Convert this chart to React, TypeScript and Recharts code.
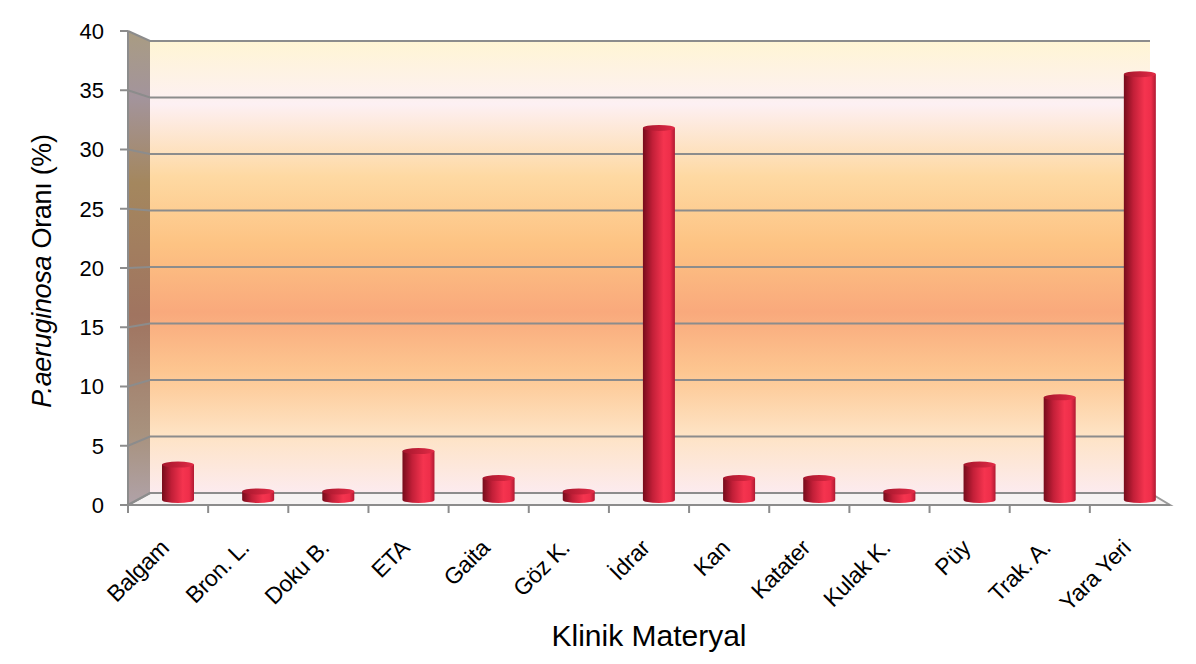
import { BarChart, Bar, XAxis, YAxis, CartesianGrid } from "recharts";

const materials = [
  "Balgam",
  "Bron. L.",
  "Doku B.",
  "ETA",
  "Gaita",
  "Göz K.",
  "İdrar",
  "Kan",
  "Katater",
  "Kulak K.",
  "Püy",
  "Trak. A.",
  "Yara Yeri",
];
const rates = [3.41, 1.14, 1.14, 4.55, 2.27, 1.14, 31.82, 2.27, 2.27, 1.14, 3.41, 9.09, 36.36];
const yTicks = [0, 5, 10, 15, 20, 25, 30, 35, 40];

const data = materials.map((name, i) => ({ name, rate: rates[i] }));

const font = "'Liberation Sans', Arial, sans-serif";

// plot box and the fake 3D wall behind it
const W = 1196;
const H = 664;
const PL = 128;
const PR = 1170;
const PT = 31;
const PB = 505;
const WALL_L = 150;
const WALL_R = 1150;
const WALL_T = 41;
const WALL_B = 493;
const band = (PR - PL) / materials.length;
const toBack = (y: number) => WALL_T + ((y - PT) * (WALL_B - WALL_T)) / (PB - PT);

const Cylinder = (props: any) => {
  const { x, y, width, height } = props;
  if (height == null || height <= 0) return null;
  const bx = x + 10;
  const rx = width / 2;
  const ry = 3;
  const bottom = y + height - 5;
  const body = `M${bx},${y} L${bx},${bottom} A${rx},${ry} 0 0 0 ${bx + width},${bottom} L${bx + width},${y} Z`;
  return (
    <g>
      <path d={body} fill="url(#cyl)" />
      <ellipse cx={bx + rx} cy={y} rx={rx} ry={ry} fill="url(#cylTop)" />
    </g>
  );
};

const XTick = (props: any) => {
  const { x, y, payload } = props;
  const lx = x - band / 2;
  return (
    <g>
      <line x1={lx} y1={y - 10} x2={lx} y2={y - 2} stroke="#8c8c8c" strokeWidth={2} />
      <g transform={`translate(${x - 2},${y + 30}) rotate(-45)`}>
        <text
          x={0}
          y={0}
          textAnchor="end"
          dominantBaseline="middle"
          fontSize={23}
          letterSpacing={-0.3}
          fill="#000"
          fontFamily={font}
        >
          {payload.value}
        </text>
      </g>
    </g>
  );
};

const GridLine = (props: any) => {
  const { y1, index } = props;
  const yb = toBack(y1);
  return (
    <path
      key={`grid-${index}`}
      d={`M${PL},${y1} L${WALL_L},${yb} L${WALL_R},${yb}`}
      fill="none"
      stroke="#8c8c8c"
      strokeWidth={2}
    />
  );
};

const YLabel = (props: any) => {
  const { viewBox } = props;
  const cy = viewBox.y + viewBox.height / 2 + 3;
  return (
    <text
      transform={`translate(44,${cy}) rotate(-90)`}
      textAnchor="middle"
      dominantBaseline="middle"
      fontSize={27}
      letterSpacing={-0.3}
      fill="#000"
      fontFamily={font}
    >
      <tspan fontStyle="italic">P.aeruginosa</tspan>
      <tspan> Oranı  (%)</tspan>
    </text>
  );
};

export default function App() {
  return (
    <div style={{ margin: -8, width: W, height: H, position: "relative", background: "#fff" }}>
      <svg width={W} height={H} style={{ position: "absolute", left: 0, top: 0 }}>
        <defs>
          <linearGradient id="wall" x1="0" y1="0" x2="0" y2="1">
            <stop offset="0%" stopColor="#fff5d4" />
            <stop offset="14%" stopColor="#fdf0f3" />
            <stop offset="30%" stopColor="#fed9a2" />
            <stop offset="45%" stopColor="#fdc383" />
            <stop offset="60%" stopColor="#f9a97c" />
            <stop offset="73%" stopColor="#fdc690" />
            <stop offset="87%" stopColor="#fee3c4" />
            <stop offset="100%" stopColor="#fcebef" />
          </linearGradient>
          <linearGradient id="side" x1="0" y1="0" x2="0" y2="1">
            <stop offset="0%" stopColor="#a99c82" />
            <stop offset="14%" stopColor="#a3949c" />
            <stop offset="32%" stopColor="#a4875e" />
            <stop offset="60%" stopColor="#a07460" />
            <stop offset="85%" stopColor="#a8927e" />
            <stop offset="100%" stopColor="#b0a2a8" />
          </linearGradient>
        </defs>
        <rect x={3} y={3} width={W - 6} height={H - 7} fill="#fff" stroke="#8a8a8a" strokeWidth={2} />
        <rect x={WALL_L} y={WALL_T} width={WALL_R - WALL_L} height={WALL_B - WALL_T} fill="url(#wall)" />
        <polygon points={`${PL},${PT} ${WALL_L},${WALL_T} ${WALL_L},${WALL_B} ${PL},${PB}`} fill="url(#side)" />
        <polygon
          points={`${PL},${PB} ${WALL_L},${WALL_B} ${WALL_R},${WALL_B} ${PR},${PB}`}
          fill="#f6f3f3"
          stroke="#9a9a9a"
          strokeWidth={2}
        />
      </svg>
      <BarChart
        width={W}
        height={H}
        data={data}
        margin={{ top: PT, right: W - PR, left: 0, bottom: 0 }}
        barSize={32}
      >
        <defs>
          <linearGradient id="cyl" x1="0" y1="0" x2="1" y2="0">
            <stop offset="0%" stopColor="#760c1b" />
            <stop offset="30%" stopColor="#c21f38" />
            <stop offset="65%" stopColor="#f5344f" />
            <stop offset="85%" stopColor="#ee2e4a" />
            <stop offset="100%" stopColor="#b01a32" />
          </linearGradient>
          <linearGradient id="cylTop" x1="0" y1="0" x2="1" y2="0">
            <stop offset="0%" stopColor="#a5162c" />
            <stop offset="100%" stopColor="#e22b46" />
          </linearGradient>
        </defs>
        <CartesianGrid vertical={false} horizontal={GridLine} stroke="#8c8c8c" strokeWidth={2} />
        <XAxis
          dataKey="name"
          interval={0}
          tick={<XTick />}
          tickLine={false}
          axisLine={{ stroke: "#8c8c8c", strokeWidth: 2 }}
          tickSize={8}
          height={H - PB}
          label={{
            value: "Klinik Materyal",
            position: "insideBottom",
            offset: 18,
            fontSize: 30,
            fill: "#000",
            fontFamily: font,
          }}
        />
        <YAxis
          domain={[0, 40]}
          ticks={yTicks}
          width={PL}
          tick={{ fontSize: 22, fill: "#000", fontFamily: font }}
          tickLine={{ stroke: "#8c8c8c", strokeWidth: 2 }}
          axisLine={{ stroke: "#8c8c8c", strokeWidth: 2 }}
          tickSize={8}
          tickMargin={16}
          label={<YLabel />}
        />
        <Bar dataKey="rate" shape={<Cylinder />} isAnimationActive={false} />
      </BarChart>
    </div>
  );
}
